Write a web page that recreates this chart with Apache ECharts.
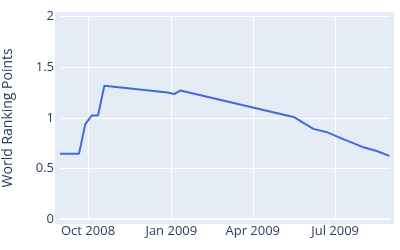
<!DOCTYPE html>
<html>
<head>
<meta charset="utf-8">
<script src="https://cdn.jsdelivr.net/npm/echarts@6/dist/echarts.min.js"></script>
<style>
html,body{margin:0;padding:0;background:#fff;}
#chart{width:400px;height:250px;}
</style>
</head>
<body>
<div id="chart"></div>
<script>
const dates = ['2008-08-31','2008-09-21','2008-09-28','2008-10-05','2008-10-12','2008-10-19','2008-12-28','2009-01-04','2009-01-11','2009-05-17','2009-06-07','2009-06-21','2009-07-12','2009-07-19','2009-08-02','2009-08-16','2009-08-30'];
const points = [0.646,0.646,0.938,1.023,1.023,1.317,1.250,1.235,1.270,1.005,0.891,0.861,0.782,0.757,0.706,0.672,0.624];
const xTickDates = ['2008-10-01','2009-01-01','2009-04-01','2009-07-01'];
const yTicks = [0, 0.5, 1, 1.5, 2];
const monthNames = ['Jan','Feb','Mar','Apr','May','Jun','Jul','Aug','Sep','Oct','Nov','Dec'];

function ts(s){ const p = s.split('-').map(Number); return Date.UTC(p[0], p[1]-1, p[2]); }
const seriesData = dates.map((d,i)=>[ts(d), points[i]]);
const xTicks = xTickDates.map(ts);

const chart = echarts.init(document.getElementById('chart'), null, {renderer:'canvas'});
const font = '"Open Sans", "Liberation Sans", sans-serif';
chart.setOption({
  animation:false,
  textStyle:{fontFamily:font},
  graphic:[{type:'rect', z:-10, silent:true, shape:{x:55,y:12,width:339,height:212}, style:{fill:'#e5ecf6'}}],
  grid:{left:60, right:10.6, top:16.7, bottom:31, containLabel:false, outerBoundsMode:'none'},
  xAxis:{
    type:'value',
    min: seriesData[0][0],
    max: seriesData[seriesData.length-1][0],
    axisLine:{show:true, onZero:false, lineStyle:{color:'#ffffff', width:2}},
    axisTick:{show:false, customValues:xTicks},
    splitLine:{show:true, lineStyle:{color:'#ffffff', width:1}},
    axisLabel:{
      customValues:xTicks,
      color:'#2a3f5f', fontSize:13, fontFamily:font, margin:6,
      hideOverlap:false, showMinLabel:true, showMaxLabel:true,
      formatter:function(v){ const d=new Date(v); return monthNames[d.getUTCMonth()]+' '+d.getUTCFullYear(); }
    }
  },
  yAxis:{
    type:'value', min:yTicks[0], max:yTicks[yTicks.length-1], interval:0.5,
    name:'World Ranking Points', nameLocation:'middle', nameGap:45,
    nameTextStyle:{color:'#2a3f5f', fontSize:14, fontFamily:font},
    axisLine:{show:false}, axisTick:{show:false},
    splitLine:{show:true, lineStyle:{color:'#ffffff', width:1}},
    axisLabel:{color:'#2a3f5f', fontSize:13, fontFamily:font, margin:6,
      formatter:function(v){ return String(v); }}
  },
  series:[{
    type:'line', data:seriesData, showSymbol:false, symbol:'none',
    lineStyle:{color:'#4169e1', width:2}, z:5
  }]
});
</script>
</body>
</html>
